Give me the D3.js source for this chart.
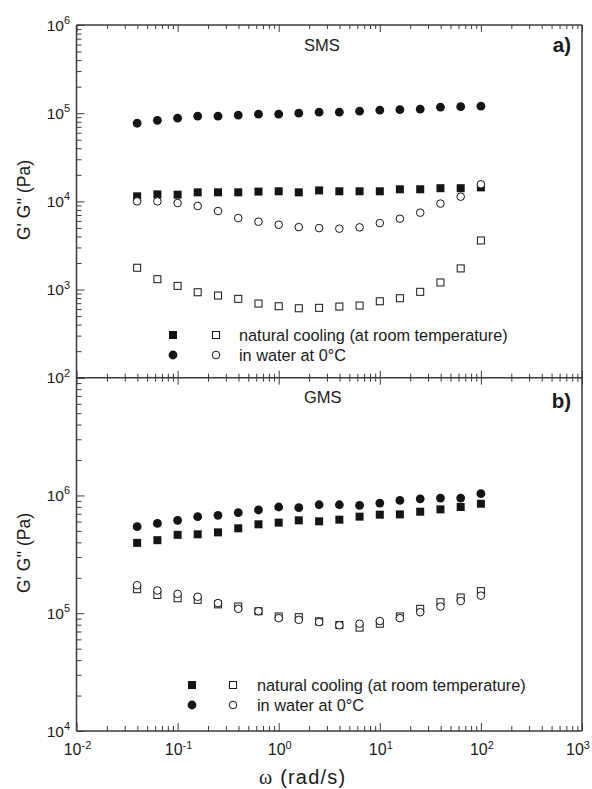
<!DOCTYPE html>
<html>
<head>
<meta charset="utf-8">
<script src="https://cdn.jsdelivr.net/npm/d3@7"></script>
<style>
body { margin: 0; background: #fff; }
text { font-family: "Liberation Sans", Arial, sans-serif; fill: #1a1a1a; }
</style>
</head>
<body>
<svg id="chart" width="592" height="789"></svg>
<script>
// --- Data ---
const freq = [0.0398, 0.0631, 0.1, 0.158, 0.251, 0.398, 0.631, 1, 1.58, 2.51, 3.98, 6.31, 10, 15.8, 25.1, 39.8, 63.1, 100];

// SMS (panel a)
const smsNaturalGp  = [11400, 12000, 11900, 12650, 12650, 12650, 12900, 13000, 12650, 13300, 13000, 13000, 13000, 13700, 13700, 14100, 14100, 14400];
const smsNaturalGpp = [1766, 1310, 1100, 931, 855, 784, 693, 646, 613, 620, 641, 658, 736, 796, 942, 1202, 1735, 3600];
const smsWaterGp    = [76900, 83000, 87700, 92500, 92500, 95000, 97500, 97500, 100000, 102600, 102600, 105400, 108100, 109500, 111000, 117000, 118500, 120000];
const smsWaterGpp   = [10000, 10000, 9570, 8850, 7770, 6460, 5870, 5430, 5100, 4970, 4900, 5070, 5670, 6350, 7440, 9430, 11300, 15600];

// GMS (panel b)
const gmsNaturalGp  = [396000, 417000, 463000, 468000, 486000, 526000, 569000, 588000, 615000, 603000, 623000, 661000, 687000, 691000, 728000, 762000, 798000, 851000];
const gmsNaturalGpp = [160000, 143000, 134000, 130000, 119000, 114000, 104000, 93900, 92600, 85300, 79400, 75500, 81500, 93900, 109000, 124000, 136000, 154000];
const gmsWaterGp    = [543000, 579000, 615000, 661000, 678000, 714000, 753000, 798000, 787000, 834000, 834000, 823000, 862000, 907000, 937000, 951000, 951000, 1035000];
const gmsWaterGpp   = [173000, 156000, 146000, 138000, 122000, 109000, 104000, 90800, 87900, 84100, 79000, 81500, 85800, 90800, 102000, 114000, 127000, 141000];

const xTickExps = [-2, -1, 0, 1, 2, 3];
const legendLabels = ["natural cooling (at room temperature)", "in water at 0°C"];
const panelNames = ["SMS", "GMS"];
const panelTags = ["a)", "b)"];

// --- Layout ---
const svg = d3.select("#chart");
const left = 76.5, right = 582;
const frameColor = "#3a3a3a";
const markColor = "#141414";

const x = d3.scaleLog().domain([1e-2, 1e3]).range([left, right]);

const panels = [
    {
        name: panelNames[0], tag: panelTags[0],
        y: d3.scaleLog().domain([1e2, 1e6]).range([377.7, 25]),
        expRange: [2, 6],
        series: [
            { values: smsNaturalGp,  shape: "square", filled: true },
            { values: smsNaturalGpp, shape: "square", filled: false },
            { values: smsWaterGp,    shape: "circle", filled: true },
            { values: smsWaterGpp,   shape: "circle", filled: false }
        ],
        legend: { x1: 173, x2: 216, xt: 239, y: 335 },
        titleY: 51, tagY: 52, yTitleY: 200
    },
    {
        name: panelNames[1], tag: panelTags[1],
        y: d3.scaleLog().domain([1e4, 1e7]).range([731, 377.7]),
        expRange: [4, 7],
        series: [
            { values: gmsNaturalGp,  shape: "square", filled: true },
            { values: gmsNaturalGpp, shape: "square", filled: false },
            { values: gmsWaterGp,    shape: "circle", filled: true },
            { values: gmsWaterGpp,   shape: "circle", filled: false }
        ],
        legend: { x1: 192, x2: 233, xt: 257, y: 685 },
        titleY: 403, tagY: 408, yTitleY: 553
    }
];

// decade helpers
function majors(e0, e1) {
    return d3.range(e0, e1 + 1).map(e => Math.pow(10, e));
}
function minors(e0, e1) {
    const out = [];
    for (let e = e0; e < e1; e++) {
        for (let k = 2; k <= 9; k++) out.push(k * Math.pow(10, e));
    }
    return out;
}

function drawMarker(g, shape, filled, cx, cy) {
    if (shape === "square") {
        const s = filled ? 8 : 7;
        g.append("rect")
            .attr("x", cx - s / 2).attr("y", cy - s / 2)
            .attr("width", s).attr("height", s)
            .attr("fill", filled ? markColor : "#fff")
            .attr("stroke", markColor)
            .attr("stroke-width", filled ? 0 : 1);
    } else {
        g.append("circle")
            .attr("cx", cx).attr("cy", cy)
            .attr("r", filled ? 4.4 : 3.8)
            .attr("fill", filled ? markColor : "#fff")
            .attr("stroke", markColor)
            .attr("stroke-width", filled ? 0 : 1);
    }
}

function supLabel(sel, exp) {
    sel.append("tspan").text("10");
    sel.append("tspan").attr("dy", -6.5).attr("font-size", 11).text(exp);
}

panels.forEach((p, i) => {
    const g = svg.append("g");
    const [yTop, yBottom] = [p.y.range()[1], p.y.range()[0]];

    // y axis ticks (pointing inside)
    const yMajor = d3.axisLeft(p.y).tickValues(majors(p.expRange[0], p.expRange[1])).tickSize(-8).tickFormat("");
    const yMinor = d3.axisLeft(p.y).tickValues(minors(p.expRange[0], p.expRange[1])).tickSize(-5).tickFormat("");
    [yMajor, yMinor].forEach(ax => {
        const a = g.append("g").attr("transform", `translate(${left},0)`).call(ax);
        a.select(".domain").remove();
        a.selectAll("line").attr("stroke", frameColor).attr("stroke-width", 1);
    });

    // y tick labels
    d3.range(p.expRange[0], p.expRange[1] + 1).forEach(e => {
        if (i === 1 && e === p.expRange[1]) return; // shared with panel a's 10^2
        const t = g.append("text")
            .attr("x", 70).attr("y", p.y(Math.pow(10, e)) + 5.5)
            .attr("text-anchor", "end")
            .attr("font-size", 15.5);
        supLabel(t, e);
    });

    // y axis title
    g.append("text")
        .attr("transform", `translate(30,${p.yTitleY}) rotate(-90)`)
        .attr("text-anchor", "middle")
        .attr("font-size", 17.5)
        .text("G' G'' (Pa)");

    // frame lines
    g.append("line").attr("x1", left).attr("x2", left).attr("y1", yTop).attr("y2", yBottom)
        .attr("stroke", frameColor).attr("stroke-width", 1.5);
    g.append("line").attr("x1", right).attr("x2", right).attr("y1", yTop).attr("y2", yBottom)
        .attr("stroke", frameColor).attr("stroke-width", 1.5);

    // panel labels
    g.append("text").attr("x", 304).attr("y", p.titleY).attr("font-size", 16.5).text(p.name);
    g.append("text").attr("x", 571).attr("y", p.tagY).attr("text-anchor", "end")
        .attr("font-size", 20.5).attr("font-weight", "bold").text(p.tag);

    // data
    const dataG = g.append("g");
    p.series.forEach(s => {
        s.values.forEach((v, j) => drawMarker(dataG, s.shape, s.filled, x(freq[j]), p.y(v)));
    });

    // legend
    const lg = g.append("g");
    drawMarker(lg, "square", true, p.legend.x1, p.legend.y);
    drawMarker(lg, "square", false, p.legend.x2, p.legend.y);
    drawMarker(lg, "circle", true, p.legend.x1, p.legend.y + 20);
    drawMarker(lg, "circle", false, p.legend.x2, p.legend.y + 20);
    legendLabels.forEach((lab, k) => {
        lg.append("text").attr("x", p.legend.xt).attr("y", p.legend.y + 6 + k * 20)
            .attr("font-size", 16.3).text(lab);
    });
});

// horizontal axes: top (ticks down), middle (both sides), bottom (ticks up)
const xMajorVals = majors(-2, 3);
const xMinorVals = minors(-2, 3);
const hAxes = [
    { y: 25, up: 0, down: 1, majorLen: 7, minorLen: 4 },
    { y: 377.7, up: 1, down: 1, majorLen: 7, minorLen: 4 },
    { y: 731, up: 1, down: 0, majorLen: 8, minorLen: 5 }
];
hAxes.forEach(h => {
    const g = svg.append("g");
    g.append("line").attr("x1", left).attr("x2", right).attr("y1", h.y).attr("y2", h.y)
        .attr("stroke", frameColor).attr("stroke-width", 1.5);
    [[xMajorVals, h.majorLen], [xMinorVals, h.minorLen]].forEach(([vals, len]) => {
        if (h.down) {
            const a = g.append("g").attr("transform", `translate(0,${h.y})`)
                .call(d3.axisBottom(x).tickValues(vals).tickSize(len).tickFormat(""));
            a.select(".domain").remove();
            a.selectAll("line").attr("stroke", frameColor);
        }
        if (h.up) {
            const a = g.append("g").attr("transform", `translate(0,${h.y})`)
                .call(d3.axisTop(x).tickValues(vals).tickSize(len).tickFormat(""));
            a.select(".domain").remove();
            a.selectAll("line").attr("stroke", frameColor);
        }
    });
});

// x tick labels (last one slightly pulled in so it stays inside the page)
xTickExps.forEach(e => {
    const t = svg.append("text")
        .attr("x", Math.min(x(Math.pow(10, e)) + 1, 578)).attr("y", 755)
        .attr("text-anchor", "middle")
        .attr("font-size", 16);
    supLabel(t, e);
});

// x axis title
svg.append("text")
    .attr("x", 259).attr("y", 784)
    .attr("font-size", 20)
    .attr("letter-spacing", 1.2)
    .html('<tspan font-family="Liberation Serif, serif">ω</tspan> (rad/s)');
</script>
</body>
</html>
